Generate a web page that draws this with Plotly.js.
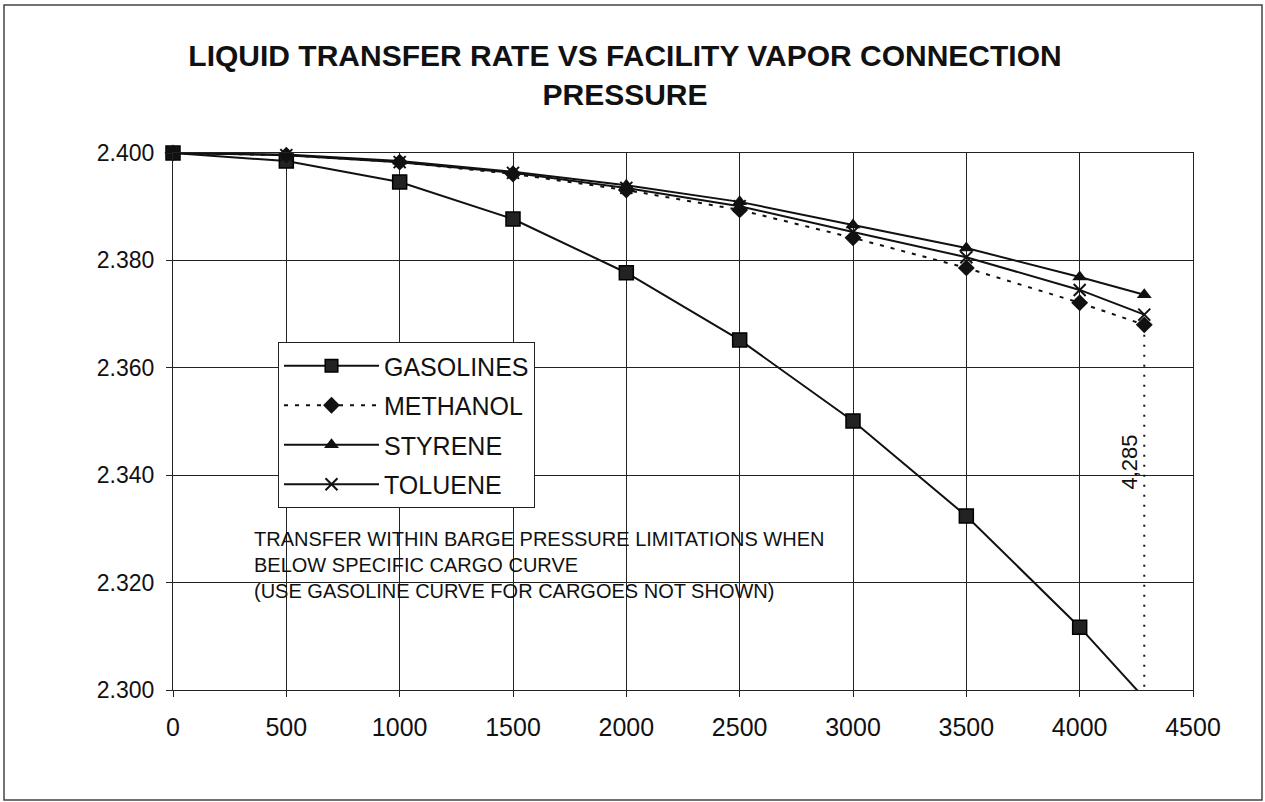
<!DOCTYPE html>
<html>
<head>
<meta charset="utf-8">
<script src="https://cdn.plot.ly/plotly-3.0.1.min.js"></script>
<style>
  html, body { margin: 0; padding: 0; background: #ffffff; }
  #chart { width: 1265px; height: 802px; }
</style>
</head>
<body>
<div id="chart"></div>
<script>
// ---- data ----
const pressure  = [0, 500, 1000, 1500, 2000, 2500, 3000, 3500, 4000, 4285];
const gasolines = [2.400, 2.3985, 2.3946, 2.3877, 2.3777, 2.3652, 2.3501, 2.3324, 2.3117, 2.2985];
const methanol  = [2.400, 2.3996, 2.3983, 2.3961, 2.3931, 2.3894, 2.3842, 2.3786, 2.3721, 2.3680];
const styrene   = [2.400, 2.3997, 2.3985, 2.3965, 2.3940, 2.3909, 2.3866, 2.3823, 2.3769, 2.3736];
const toluene   = [2.400, 2.3996, 2.3983, 2.3963, 2.3935, 2.3901, 2.3853, 2.3806, 2.3745, 2.3699];
const seriesNames = ["GASOLINES", "METHANOL", "STYRENE", "TOLUENE"];
const limitPressure = 4285;
const limitLabel = "4,285";
const yAxisMin = 2.300;
const titleText = "LIQUID TRANSFER RATE VS FACILITY VAPOR CONNECTION<br>PRESSURE";
const noteText = "TRANSFER WITHIN BARGE PRESSURE LIMITATIONS WHEN<br>BELOW SPECIFIC CARGO CURVE<br>(USE GASOLINE CURVE FOR CARGOES NOT SHOWN)";

const FONT = "Liberation Sans, Arial, sans-serif";
const last = pressure.length - 1;

const traces = [
  {
    name: seriesNames[0], legendgroup: "g1", x: pressure, y: gasolines, mode: "lines+markers",
    line: { color: "#111", width: 2 },
    marker: { symbol: "square", color: "#222", opacity: 1,
              size: pressure.map((p, i) => i === last ? 0 : 14),
              line: { color: "#000", width: 1.5 } },
    cliponaxis: false
  },
  {
    name: seriesNames[1], legendgroup: "g2", x: pressure, y: methanol, mode: "lines+markers",
    line: { color: "#111", width: 2, dash: "4px,7px" },
    marker: { symbol: "diamond", color: "#111", size: 13 },
    cliponaxis: false
  },
  {
    name: seriesNames[2], legendgroup: "g3", x: pressure, y: styrene, mode: "lines+markers",
    line: { color: "#111", width: 2 },
    marker: { symbol: "triangle-up", color: "#111", size: 13 },
    cliponaxis: false
  },
  {
    name: seriesNames[3], legendgroup: "g4", x: pressure, y: toluene, mode: "lines+markers",
    line: { color: "#111", width: 2 },
    marker: { symbol: "x-thin", color: "#111", size: 12, line: { width: 2, color: "#111" } },
    cliponaxis: false
  },
  {
    name: "limit", x: [limitPressure, limitPressure], y: [methanol[last], yAxisMin],
    mode: "lines", showlegend: false, hoverinfo: "skip",
    line: { color: "#111", width: 2, dash: "2px,8px" }
  }
];

// plot area in pixels: left 173, right 1193, top 153, bottom 690
const L = 173, R = 1193, T = 153, B = 690;
const W = 1265, H = 802;
const px = v => (v - L) / (R - L);
const py = v => (B - v) / (B - T);

const layout = {
  width: W, height: H,
  margin: { l: L, r: W - R, t: T, b: H - B },
  paper_bgcolor: "#ffffff",
  plot_bgcolor: "#ffffff",
  font: { family: FONT, color: "#111", size: 22 },
  title: {
    text: titleText,
    font: { family: FONT, size: 30, color: "#111", weight: "bold" },
    xref: "container", x: 625 / W, xanchor: "center",
    yref: "container", y: 1 - 66 / H, yanchor: "top"
  },
  xaxis: {
    range: [0, 4500], dtick: 500, tick0: 0,
    showgrid: true, gridcolor: "#222", gridwidth: 1,
    showline: true, linecolor: "#222", linewidth: 1, mirror: true,
    ticks: "outside", ticklen: 6, tickcolor: "#222", ticklabelstandoff: 9,
    tickfont: { family: FONT, size: 25, color: "#111" },
    zeroline: false, fixedrange: true
  },
  yaxis: {
    range: [2.300, 2.400], dtick: 0.02, tick0: 2.300, tickformat: ".3f",
    showgrid: true, gridcolor: "#222", gridwidth: 1,
    showline: true, linecolor: "#222", linewidth: 1, mirror: true,
    ticks: "outside", ticklen: 6, tickcolor: "#222", ticklabelstandoff: 7,
    tickfont: { family: FONT, size: 23, color: "#111" },
    zeroline: false, fixedrange: true
  },
  legend: {
    x: px(278), y: py(342), xanchor: "left", yanchor: "top",
    bgcolor: "#ffffff", bordercolor: "#222", borderwidth: 1,
    font: { family: FONT, size: 25, color: "#111" },
    itemwidth: 95, tracegroupgap: 4
  },
  annotations: [
    {
      text: noteText, xref: "paper", yref: "paper",
      x: px(252), y: py(526), xanchor: "left", yanchor: "top", align: "left",
      showarrow: false, font: { family: FONT, size: 20, color: "#111" }
    },
    {
      text: limitLabel, xref: "x", yref: "y",
      x: limitPressure, y: 2.3425, xanchor: "right", yanchor: "middle",
      textangle: -90, showarrow: false,
      font: { family: FONT, size: 22, color: "#111" }
    }
  ],
  shapes: [
    {
      type: "rect", xref: "paper", yref: "paper",
      x0: px(4), x1: px(1262), y0: py(800), y1: py(5),
      line: { color: "#444", width: 1.5 }, fillcolor: "rgba(0,0,0,0)", layer: "below"
    }
  ],
  showlegend: true
};

Plotly.newPlot("chart", traces, layout, { displayModeBar: false, staticPlot: true });
</script>
</body>
</html>
